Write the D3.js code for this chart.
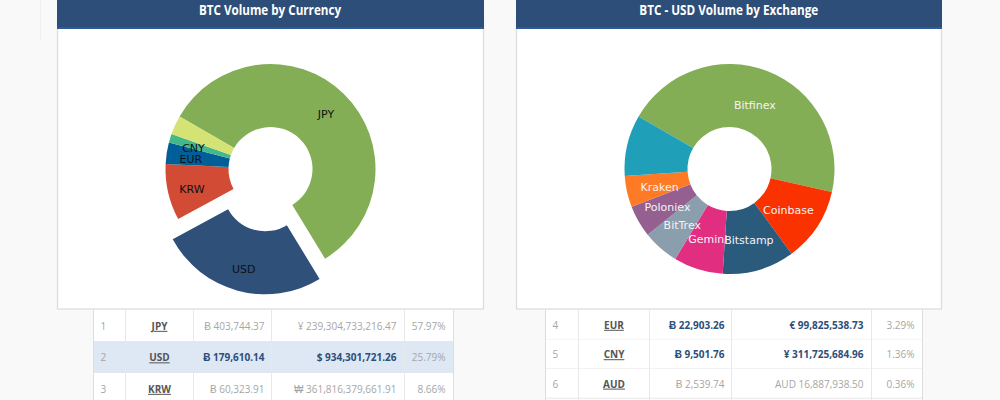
<!DOCTYPE html>
<html>
  <head>
    <meta charset="utf-8">
    <title>BTC Volume</title>
    <style>
      html, body { margin: 0; padding: 0; background: #f9f9f9; overflow: hidden; }
      svg { display: block; }
      .title { font: bold 15px "Open Sans", sans-serif; fill: #fff; text-anchor: middle; }
      .slice-label { font: 11px "DejaVu Sans", sans-serif; text-anchor: middle; }
      .cell { font: 10px "Open Sans", sans-serif; fill: #a6a6a6; }
      .cell.strong { font-weight: bold; fill: #2d4e78; }
      .cell.code { font-weight: bold; fill: #555; text-decoration: underline; text-anchor: middle; }
      .cell.num { text-anchor: end; }
    </style>
  </head>
  <body>
    <svg id="chart" width="1000" height="400"></svg>
    <script src="https://cdnjs.cloudflare.com/ajax/libs/d3/7.8.5/d3.min.js"></script>
    <script>
// currency chart
var currencyNames = ["JPY", "USD", "KRW", "EUR", "CNY", ""];
var currencyShares = [57.97, 25.79, 8.66, 3.29, 1.36, 2.93];
var currencyColours = ["#84ae55", "#2e5079", "#d24b34", "#005f99", "#44b88a", "#d4e373"];

// exchange chart
var exchangeNames = ["Bitfinex", "Coinbase", "Bitstamp", "Gemini", "BitTrex", "Poloniex", "Kraken", ""];
var exchangeShares = [45.2, 11.4, 11.1, 7.6, 5.6, 4.9, 4.8, 9.4];
var exchangeColours = ["#84ae55", "#f93200", "#2a5a7c", "#e12e80", "#8a9eae", "#95608f", "#ff7a24", "#1f9fb8"];

// table rows: rank, code, btc, amount, percent
var currencyRows = [
  ["1", "JPY", "Ƀ 403,744.37", "¥ 239,304,733,216.47", "57.97%"],
  ["2", "USD", "Ƀ 179,610.14", "$ 934,301,721.26", "25.79%"],
  ["3", "KRW", "Ƀ 60,323.91", "₩ 361,816,379,661.91", "8.66%"]
];
var exchangeRows = [
  ["4", "EUR", "Ƀ 22,903.26", "€ 99,825,538.73", "3.29%"],
  ["5", "CNY", "Ƀ 9,501.76", "¥ 311,725,684.96", "1.36%"],
  ["6", "AUD", "Ƀ 2,539.74", "AUD 16,887,938.50", "0.36%"]
];
var currencyStrongRows = ["USD"];
var exchangeStrongRows = ["EUR", "CNY"];

var svg = d3.select("#chart");

var outer = 105, inner = 42;
var pie = d3.pie().sort(null).startAngle(-Math.PI / 3).endAngle(Math.PI * 5 / 3);

function drawPanel(opts) {
  // panel body and header
  svg.append("rect")
      .attr("x", opts.x + 0.5).attr("y", 20)
      .attr("width", opts.width - 1).attr("height", 289)
      .attr("fill", "#fff").attr("stroke", "#ddd").attr("stroke-width", 1.3);
  svg.append("rect")
      .attr("x", opts.x).attr("y", 0)
      .attr("width", opts.width).attr("height", 27)
      .attr("fill", "#2d4e78");
  svg.append("rect")
      .attr("x", opts.x).attr("y", 27)
      .attr("width", opts.width).attr("height", 2)
      .attr("fill", "#2c5a9a");
  svg.append("text")
      .attr("class", "title")
      .attr("x", opts.titleX).attr("y", 15)
      .attr("textLength", opts.titleWidth)
      .attr("lengthAdjust", "spacingAndGlyphs")
      .text(opts.title);

  // donut
  var g = svg.append("g").attr("transform", "translate(" + opts.cx + ",169)");
  var arc = d3.arc().innerRadius(inner).outerRadius(outer);
  var labelArc = d3.arc().innerRadius(opts.labelRadius).outerRadius(opts.labelRadius);
  var arcs = pie(opts.shares);

  function offset(d, i) {
    if (opts.names[i] !== opts.exploded) return [0, 0];
    var mid = (d.startAngle + d.endAngle) / 2;
    return [Math.sin(mid) * 21, -Math.cos(mid) * 21];
  }

  g.selectAll("path")
    .data(arcs)
    .enter().append("path")
      .attr("d", arc)
      .attr("fill", (d, i) => opts.colours[i])
      .attr("transform", (d, i) => "translate(" + offset(d, i) + ")");

  g.selectAll("text")
    .data(arcs)
    .enter().append("text")
      .attr("class", "slice-label")
      .attr("fill", opts.labelColour)
      .attr("dy", ".35em")
      .attr("transform", (d, i) => {
        var c = labelArc.centroid(d), o = offset(d, i);
        // labels sit a little under the centroid
        return "translate(" + (c[0] + o[0] - 0.5) + "," + (c[1] + o[1] + 2.5) + ")";
      })
      .text((d, i) => opts.names[i]);

  // table below the panel
  var cols = opts.cols;
  var y = d3.scaleBand().domain(d3.range(opts.rows.length + 1)).range([310, 310 + opts.rowHeight * (opts.rows.length + 1)]);
  svg.append("rect")
      .attr("x", cols[0]).attr("y", 310)
      .attr("width", cols[5] - cols[0]).attr("height", 90)
      .attr("fill", "#fff");

  var row = svg.selectAll(null)
    .data(opts.rows)
    .enter().append("g")
      .attr("transform", (d, i) => "translate(0," + y(i) + ")");

  row.append("rect")
      .attr("x", cols[0]).attr("width", cols[5] - cols[0])
      .attr("height", y.bandwidth())
      .attr("fill", d => opts.highlight.indexOf(d[1]) >= 0 && opts.shade ? "#dde8f4" : "#fff");
  row.append("line")
      .attr("x1", cols[0]).attr("x2", cols[5])
      .attr("y1", y.bandwidth()).attr("y2", y.bandwidth())
      .attr("stroke", "#e8e8e8");

  var mid = y.bandwidth() / 2 + 0.6;
  row.append("text").attr("class", "cell")
      .attr("x", cols[0] + 7).attr("y", mid).attr("dy", ".35em")
      .text(d => d[0]);
  row.append("text").attr("class", "cell code")
      .attr("x", (cols[1] + cols[2]) / 2).attr("y", mid).attr("dy", ".35em")
      .text(d => d[1]);
  row.append("text").attr("class", d => "cell num" + (opts.highlight.indexOf(d[1]) >= 0 ? " strong" : ""))
      .attr("x", cols[3] - 7).attr("y", mid).attr("dy", ".35em")
      .text(d => d[2]);
  row.append("text").attr("class", d => "cell num" + (opts.highlight.indexOf(d[1]) >= 0 ? " strong" : ""))
      .attr("x", cols[4] - 8).attr("y", mid).attr("dy", ".35em")
      .text(d => d[3]);
  row.append("text").attr("class", "cell num")
      .attr("x", cols[5] - 8).attr("y", mid).attr("dy", ".35em")
      .text(d => d[4]);

  svg.selectAll(null)
    .data(cols)
    .enter().append("line")
      .attr("x1", d => d).attr("x2", d => d)
      .attr("y1", 310).attr("y2", 400)
      .attr("stroke", (d, i) => i == 0 || i == 5 ? "#ddd" : "#e8e8e8");
}

// faint page gutter line
svg.append("rect").attr("width", 1000).attr("height", 400).attr("fill", "#f9f9f9");
svg.append("line")
    .attr("x1", 40.5).attr("x2", 40.5).attr("y1", 0).attr("y2", 40)
    .attr("stroke", "#f0f0f0");

drawPanel({
  x: 57, width: 427, title: "BTC Volume by Currency", titleX: 270, titleWidth: 142,
  cx: 270.5, labelRadius: 80, labelColour: "#111",
  names: currencyNames, shares: currencyShares, colours: currencyColours, exploded: "USD",
  rows: currencyRows, highlight: currencyStrongRows, shade: true,
  cols: [93.5, 125.5, 193.5, 271.5, 404.5, 453.5], rowHeight: 31.5
});
drawPanel({
  x: 516, width: 426, title: "BTC - USD Volume by Exchange", titleX: 728.8, titleWidth: 179,
  cx: 729.5, labelRadius: 71, labelColour: "#f4f4f4",
  names: exchangeNames, shares: exchangeShares, colours: exchangeColours, exploded: null,
  rows: exchangeRows, highlight: exchangeStrongRows, shade: false,
  cols: [545.5, 578.5, 649.5, 731.5, 871.5, 922.5], rowHeight: 29.4
});
    </script>
  </body>
</html>
